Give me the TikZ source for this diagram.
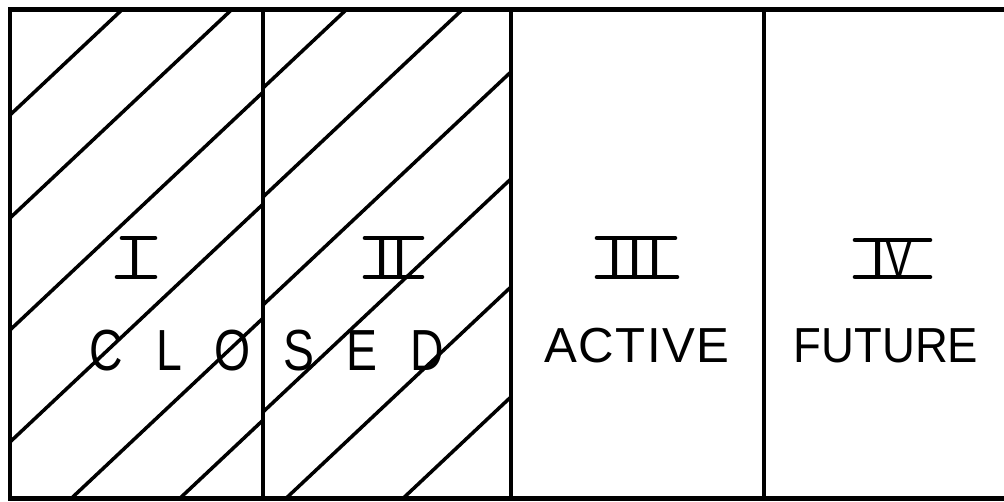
\documentclass[tikz,border=0pt]{standalone}
\usepackage{fontspec}
\setmainfont{Liberation Sans}
\usepackage{graphicx}
\begin{document}
\begin{tikzpicture}[x=0.02cm,y=-0.02cm,
  frame/.style={line width=2.6pt, line cap=round},
  divider/.style={line width=2.1pt},
  hatch/.style={line width=2.0pt},
  bar/.style={line width=2.6pt, line cap=round},
  numeral/.style={inner sep=0pt, anchor=base, font=\fontsize{31}{31}\selectfont},
  label/.style={inner sep=0pt, anchor=base, font=\fontsize{28}{28}\selectfont}]
\useasboundingbox (0,0) rectangle (1004,501);
% hatching, region I
\begin{scope}
  \clip (10,9.5) rectangle (263,498.5);
  \foreach \c in {115,218,330,442,556,658}
    \draw[hatch] (0,{\c+9.4}) -- (800,{\c-742.6});
\end{scope}
% hatching, region II
\begin{scope}
  \clip (263,9.5) rectangle (511,498.5);
  \foreach \c in {88,197,305,412,520,630}
    \draw[hatch] (200,{\c+59.2}) -- (700,{\c-410.8});
\end{scope}
% frame (open on the right, as cropped)
\coordinate (tl) at (10,9.5);
\coordinate (bl) at (10,498.5);
\coordinate (tr) at (1004,9.5);
\coordinate (br) at (1004,498.5);
\draw[frame] (tr) -- (tl) -- (bl) -- (br);
% dividers
\foreach \x in {263,511,764}
  \draw[divider] (\x,9.5) -- (\x,498.5);
% numerals
\node[numeral] (n1) at (135,277) {I};
\draw[bar] (122,238) -- (155,238);
\draw[bar] (117,277) -- (155,277);
\node[numeral] (n2) at (391,277) {I\kern1.2pt I};
\draw[bar] (365,238) -- (422,238);
\draw[bar] (365,277) -- (422,277);
\node[numeral] (n3) at (635,277) {I\kern2.7pt I\kern2.7pt I};
\draw[bar] (597,238) -- (675,238);
\draw[bar] (597,277) -- (677,277);
\node[numeral] (n4) at (892,277) {I\scalebox{0.75}[1]{V}};
\draw[bar] (855,240) -- (930,240);
\draw[bar] (855,277) -- (930,277);
% words
\node[label, font=\fontsize{33}{33}\selectfont] (closed) at (267,370)
  {\scalebox{0.8}[1]{\makebox[252pt][s]{C\hfill L\hfill O\hfill S\hfill E\hfill D}}};
\node[label] (active) at (637,362)
  {\makebox[105pt][s]{A\hfill C\hfill T\hfill I\hfill V\hfill E}};
\node[label] (future) at (886,362) {\scalebox{0.925}[1]{FUTURE}};
\end{tikzpicture}
\end{document}
